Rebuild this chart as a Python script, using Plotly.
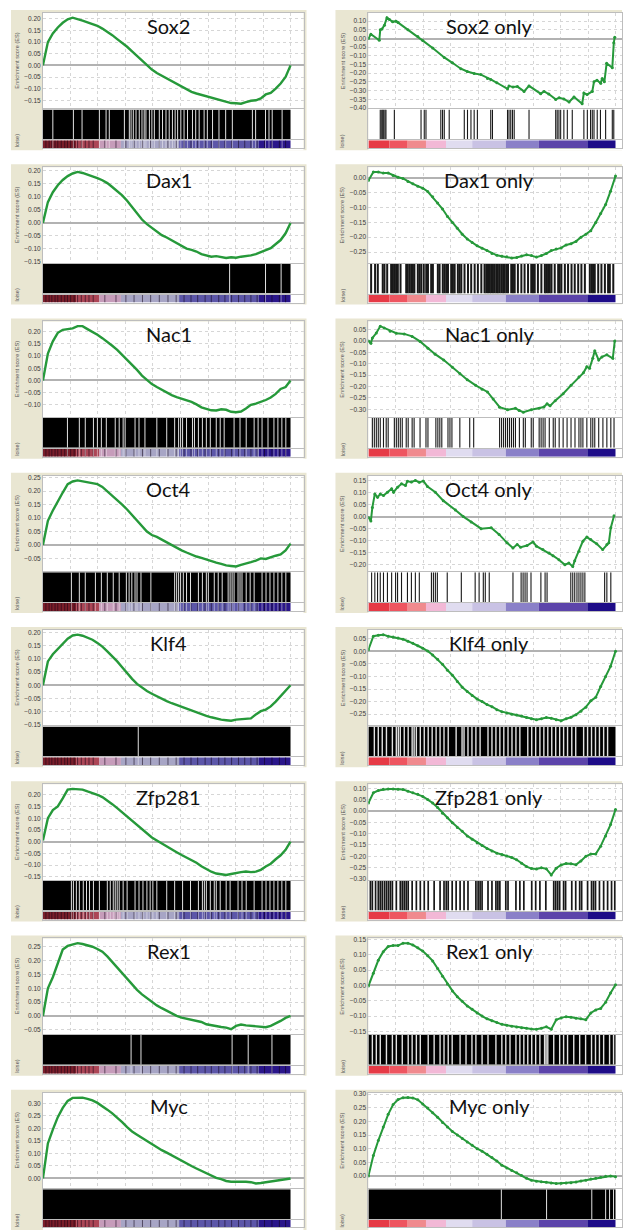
import plotly.graph_objects as go

W, H = 623, 1230

# ---------------- data ----------------
RANK_PCT = list(range(0, 101, 2))

LEFT_TITLES = ["Sox2", "Dax1", "Nac1", "Oct4", "Klf4", "Zfp281", "Rex1", "Myc"]
RIGHT_TITLES = ["Sox2 only", "Dax1 only", "Nac1 only", "Oct4 only",
                "Klf4 only", "Zfp281 only", "Rex1 only", "Myc only"]

es_sox2 = [0.0, 0.10, 0.137, 0.163, 0.183, 0.198, 0.205, 0.200, 0.192, 0.185,
           0.177, 0.170, 0.158, 0.145, 0.130, 0.113, 0.097, 0.080, 0.060, 0.040,
           0.018, 0.000, -0.018, -0.033, -0.045, -0.057, -0.068, -0.080, -0.093, -0.105,
           -0.114, -0.121, -0.127, -0.132, -0.138, -0.145, -0.152, -0.158, -0.162, -0.163,
           -0.165, -0.158, -0.152, -0.150, -0.142, -0.125, -0.118, -0.100, -0.078, -0.050,
           0.0]
es_dax1 = [0.0, 0.08, 0.118, 0.145, 0.165, 0.18, 0.19, 0.196, 0.192, 0.186,
           0.18, 0.172, 0.164, 0.153, 0.138, 0.123, 0.106, 0.085, 0.06, 0.036,
           0.013, -0.005, -0.02, -0.035, -0.047, -0.056, -0.066, -0.077, -0.088, -0.099,
           -0.104, -0.11, -0.12, -0.126, -0.13, -0.128, -0.132, -0.135, -0.132, -0.134,
           -0.13, -0.128, -0.125, -0.12, -0.114, -0.105, -0.097, -0.083, -0.066, -0.04,
           0.0]
es_nac1 = [0.0, 0.11, 0.16, 0.195, 0.207, 0.21, 0.213, 0.222, 0.222, 0.21,
           0.2, 0.187, 0.173, 0.159, 0.142, 0.125, 0.105, 0.085, 0.063, 0.043,
           0.02, 0.002, -0.015, -0.027, -0.038, -0.05, -0.06, -0.068, -0.074, -0.08,
           -0.088, -0.098, -0.11, -0.116, -0.122, -0.123, -0.118, -0.12, -0.128, -0.13,
           -0.127, -0.115, -0.1, -0.095, -0.088, -0.08, -0.07, -0.055, -0.035, -0.027,
           0.0]
es_oct4 = [0.0, 0.09, 0.128, 0.163, 0.195, 0.226, 0.236, 0.24, 0.237, 0.232,
           0.231, 0.226, 0.216, 0.2, 0.185, 0.168, 0.15, 0.132, 0.112, 0.09,
           0.068, 0.05, 0.037, 0.03, 0.02, 0.01, 0.0, -0.012, -0.02, -0.028,
           -0.036, -0.043, -0.048, -0.055, -0.06, -0.066, -0.07, -0.076, -0.078, -0.08,
           -0.074, -0.07, -0.064, -0.058, -0.05, -0.052, -0.045, -0.04, -0.035, -0.02,
           0.005]
es_klf4 = [0.0, 0.09, 0.117, 0.137, 0.158, 0.176, 0.188, 0.191, 0.187, 0.18,
           0.172, 0.16, 0.146, 0.128, 0.11, 0.09, 0.068, 0.045, 0.024, 0.005,
           -0.01, -0.022, -0.032, -0.042, -0.05, -0.06, -0.068, -0.075, -0.083, -0.09,
           -0.097, -0.103, -0.11, -0.116, -0.121, -0.127, -0.13, -0.132, -0.134, -0.13,
           -0.128, -0.126, -0.125, -0.11, -0.098, -0.092, -0.08, -0.062, -0.04, -0.022,
           0.0]
es_zfp281 = [0.005, 0.1, 0.135, 0.15, 0.185, 0.222, 0.225, 0.224, 0.222, 0.214,
             0.208, 0.2, 0.19, 0.176, 0.16, 0.143, 0.125, 0.107, 0.088, 0.07,
             0.053, 0.036, 0.018, 0.005, -0.008, -0.02, -0.035, -0.045, -0.057, -0.067,
             -0.078, -0.09, -0.105, -0.118, -0.128, -0.136, -0.14, -0.142, -0.138, -0.133,
             -0.13, -0.127, -0.13, -0.128, -0.12, -0.106, -0.094, -0.075, -0.058, -0.035,
             0.0]
es_rex1 = [0.0, 0.1, 0.14, 0.19, 0.24, 0.253, 0.258, 0.263, 0.26, 0.256,
           0.25, 0.242, 0.232, 0.215, 0.195, 0.175, 0.155, 0.133, 0.112, 0.094,
           0.078, 0.064, 0.05, 0.038, 0.028, 0.018, 0.008, 0.0, -0.006, -0.01,
           -0.012, -0.016, -0.022, -0.03, -0.034, -0.037, -0.04, -0.042, -0.048, -0.036,
           -0.031, -0.034, -0.036, -0.038, -0.04, -0.041, -0.036, -0.028, -0.018, -0.007,
           0.0]
es_myc = [0.0, 0.14, 0.195, 0.245, 0.282, 0.31, 0.322, 0.324, 0.323, 0.318,
          0.312, 0.302, 0.29, 0.275, 0.26, 0.243, 0.225, 0.205, 0.188, 0.175,
          0.162, 0.15, 0.137, 0.125, 0.113, 0.103, 0.092, 0.08, 0.07, 0.06,
          0.05, 0.04, 0.03, 0.02, 0.01, 0.002, -0.003, -0.01, -0.013, -0.012,
          -0.013, -0.013, -0.015, -0.02, -0.018, -0.015, -0.013, -0.011, -0.008, -0.005,
          0.0]

x_sox2_only = [0, 1, 4.4, 4.8, 5.5, 6.5, 7.5, 8.5, 9.8, 11.2,
               12, 16, 20, 22, 26, 30.7, 34, 37.4, 40, 42.8,
               45.5, 48.2, 49.5, 52, 56.3, 56.9, 58.5, 60.3, 63, 65,
               69.7, 71.1, 73, 75.8, 77.2, 79.1, 81.2, 83.2, 86.5, 87.2,
               88.5, 90.6, 91.3, 92.5, 94, 94.6, 95.5, 96.4, 98.7, 99.3,
               99.7]
es_sox2_only = [0.0, 0.025, -0.01, 0.05, 0.055, 0.077, 0.12, 0.11, 0.096, 0.10,
                0.092, 0.05, 0.012, -0.012, -0.055, -0.109, -0.14, -0.174, -0.19, -0.202,
                -0.208, -0.23, -0.236, -0.255, -0.29, -0.273, -0.28, -0.277, -0.305, -0.273,
                -0.318, -0.305, -0.32, -0.351, -0.342, -0.348, -0.366, -0.337, -0.376, -0.314,
                -0.323, -0.305, -0.249, -0.24, -0.258, -0.23, -0.249, -0.143, -0.169, -0.025,
                0.007]
es_dax1_only = [-0.009, 0.02, 0.02, 0.016, 0.016, 0.008, 0.002, -0.002, -0.012, -0.02,
                -0.028, -0.035, -0.046, -0.064, -0.085, -0.105, -0.13, -0.15, -0.17, -0.19,
                -0.206, -0.218, -0.229, -0.237, -0.245, -0.255, -0.261, -0.264, -0.266, -0.27,
                -0.268, -0.263, -0.259, -0.262, -0.267, -0.262, -0.255, -0.245, -0.24, -0.236,
                -0.226, -0.222, -0.214, -0.2, -0.19, -0.178, -0.15, -0.12, -0.09, -0.045,
                0.006]
x_nac1_only = [0, 1, 1.6, 3.2, 4.8, 6.4, 8.8, 11.3, 14.5, 17.7,
               20.9, 24.1, 27, 30.5, 34, 37, 40, 43.4, 46, 48.2,
               50.5, 53.1, 56.3, 59.5, 61, 62.7, 65.9, 69.1, 71, 72.3,
               73.5, 75.6, 78.8, 82, 85.2, 87, 88.4, 89.5, 90.8, 91.6,
               93.2, 94.5, 96.5, 98.9, 99.7]
es_nac1_only = [0.0, -0.01, 0.013, 0.035, 0.065, 0.057, 0.043, 0.034, 0.031, 0.02,
                -0.002, -0.032, -0.058, -0.084, -0.115, -0.143, -0.17, -0.195, -0.212, -0.224,
                -0.255, -0.291, -0.302, -0.296, -0.305, -0.313, -0.302, -0.296, -0.29, -0.276,
                -0.285, -0.262, -0.232, -0.195, -0.158, -0.14, -0.113, -0.12, -0.076, -0.043,
                -0.084, -0.07, -0.061, -0.076, 0.0]
x_oct4_only = [0, 1, 1.6, 2.6, 3.7, 4.8, 6.1, 7.7, 9.4, 10.2,
               11.8, 13.4, 15, 15.8, 17.4, 19, 20.6, 22.2, 23.9, 27.1,
               30.3, 35.2, 38.4, 41.6, 45.6, 49.7, 52.9, 56.1, 58.5, 60.2,
               61.6, 64.2, 66.6, 68, 70.6, 73.1, 74.7, 77.1, 79.5, 81.1,
               82.7, 83.5, 85.2, 86.8, 88.4, 90, 92.4, 94.8, 96.5, 97.3,
               98.1, 99.4]
es_oct4_only = [-0.004, -0.018, 0.038, 0.094, 0.08, 0.094, 0.087, 0.101, 0.115, 0.101,
                0.122, 0.136, 0.129, 0.147, 0.143, 0.15, 0.142, 0.148, 0.125, 0.101,
                0.066, 0.027, 0.0, -0.022, -0.05, -0.046, -0.074, -0.109, -0.13, -0.116,
                -0.127, -0.12, -0.105, -0.123, -0.137, -0.151, -0.162, -0.179, -0.2, -0.193,
                -0.207, -0.183, -0.144, -0.102, -0.085, -0.095, -0.113, -0.137, -0.116, -0.109,
                -0.046, 0.003]
es_klf4_only = [0.006, 0.06, 0.064, 0.066, 0.06, 0.057, 0.053, 0.048, 0.04, 0.032,
                0.022, 0.012, 0.001, -0.015, -0.032, -0.052, -0.075, -0.095, -0.12, -0.143,
                -0.16, -0.176, -0.19, -0.2, -0.212, -0.22, -0.232, -0.24, -0.245, -0.25,
                -0.253, -0.257, -0.263, -0.268, -0.272, -0.268, -0.263, -0.266, -0.272, -0.276,
                -0.268, -0.262, -0.252, -0.238, -0.222, -0.197, -0.183, -0.14, -0.1, -0.06,
                0.0]
es_zfp281_only = [0.035, 0.08, 0.09, 0.095, 0.097, 0.097, 0.096, 0.094, 0.087, 0.08,
                  0.073, 0.064, 0.05, 0.035, 0.015, -0.01, -0.03, -0.052, -0.073, -0.09,
                  -0.11, -0.125, -0.14, -0.152, -0.165, -0.176, -0.186, -0.192, -0.198, -0.205,
                  -0.215, -0.23, -0.245, -0.254, -0.256, -0.25, -0.255, -0.282, -0.252, -0.238,
                  -0.232, -0.233, -0.237, -0.22, -0.2, -0.19, -0.19, -0.155, -0.11, -0.06,
                  0.006]
es_rex1_only = [-0.002, 0.04, 0.082, 0.11, 0.127, 0.13, 0.13, 0.138, 0.138, 0.132,
                0.123, 0.112, 0.097, 0.08, 0.055, 0.03, 0.005, -0.018, -0.037, -0.052,
                -0.067, -0.078, -0.09, -0.1, -0.109, -0.115, -0.121, -0.127, -0.13, -0.133,
                -0.136, -0.138, -0.14, -0.142, -0.143, -0.14, -0.135, -0.143, -0.112, -0.106,
                -0.102, -0.104, -0.107, -0.109, -0.112, -0.09, -0.08, -0.075, -0.055, -0.025,
                0.002]
es_myc_only = [0.0, 0.075, 0.13, 0.18, 0.226, 0.262, 0.28, 0.287, 0.288, 0.286,
               0.279, 0.264, 0.249, 0.232, 0.215, 0.196, 0.18, 0.163, 0.15, 0.138,
               0.125, 0.113, 0.1, 0.091, 0.08, 0.068, 0.055, 0.04, 0.03, 0.02,
               0.012, 0.002, -0.008, -0.015, -0.019, -0.021, -0.023, -0.025, -0.027, -0.026,
               -0.025, -0.024, -0.022, -0.018, -0.015, -0.011, -0.008, -0.004, -0.001, 0.0,
               -0.002]

# barcode positions (% of ranked list)
gaps_sox2 = [4.0, 12.3, 15.8, 22.8, 25.5, 26.8, 32.9, 34.9, 35.6, 36.5, 37.6, 38.9, 40.0,
             40.9, 41.6, 43.0, 44.0, 45.0, 47.0, 48.3, 49.7, 51.0, 52.3, 53.4, 54.4, 55.7,
             57.0, 58.4, 60.4, 61.7, 63.1, 65.1, 66.4, 68.5, 71.1, 73.8, 76.5, 84.6, 85.9,
             89.9, 91.3, 92.6, 96.6]
gaps_dax1 = [75.4, 89.9, 96.2]
gaps_nac1 = [9.9, 14.7, 17.1, 20.4, 22.0, 23.6, 25.6, 29.2, 30.8, 32.4, 33.2, 37.2, 38.8,
             41.2, 46.0, 50.0, 53.2, 54.8, 55.6, 56.4, 58.0, 60.4, 61.2, 62.8, 64.4, 66.0,
             67.6, 70.0, 71.6, 73.2, 77.2, 79.6, 82.1, 85.3, 86.9, 88.5, 90.9, 93.3, 94.9,
             96.5, 98.1]
gaps_oct4 = [11.5, 14.7, 17.1, 21.2, 23.6, 26.0, 28.4, 30.8, 33.7, 34.8, 35.9, 37.2, 38.0,
             39.6, 43.6, 53.2, 54.0, 54.8, 55.6, 56.7, 58.0, 59.6, 62.8, 64.4, 66.0, 66.8,
             69.2, 70.8, 72.4, 74.8, 75.6, 76.4, 77.2, 78.8, 79.6, 80.4, 82.1, 83.7, 85.3,
             88.5, 90.1, 91.7, 93.3, 94.9, 96.5, 98.1]
gaps_klf4 = [38.5]
gaps_zfp281 = [11.5, 12.3, 13.5, 14.7, 16.3, 17.6, 18.8, 20.4, 22.8, 26.0, 27.2, 28.4, 29.2,
               30.0, 30.8, 32.4, 34.0, 37.2, 38.8, 40.4, 42.0, 43.3, 44.4, 46.0, 50.0, 53.2,
               56.4, 59.6, 62.8, 64.4, 65.2, 66.0, 67.6, 69.2, 70.0, 71.6, 74.0, 75.6, 78.8,
               80.4, 82.1, 85.3, 88.5, 90.1, 91.7, 93.3, 94.9, 96.5, 98.1]
gaps_rex1 = [35.6, 39.6, 76.4, 82.9, 92.5]
gaps_myc = []

hits_sox2_only = [4.8, 5.4, 5.8, 6.2, 6.7, 7.1, 10.5, 21.3, 22.6, 23.3, 29.3, 30.0, 30.7,
                  32.7, 38.8, 40.1, 41.5, 42.8, 44.1, 49.5, 50.2, 56.3, 56.9, 57.6, 58.3,
                  59.0, 65.0, 75.8, 76.4, 77.1, 77.8, 79.1, 80.5, 82.5, 87.2, 88.6, 89.9,
                  90.6, 91.3, 92.6, 93.9, 96.0, 98.7, 99.3]
hits_dax1_only = [1.1, 2.7, 3.8, 5.8, 6.5, 7.6, 9.2, 9.9, 10.5, 11.2, 11.9, 13.0, 15.3, 15.9,
                  16.6, 17.3, 18.0, 18.6, 20.0, 20.7, 21.4, 22.4, 23.4, 24.1, 25.4, 26.1, 28.1,
                  28.8, 30.1, 30.8, 31.5, 32.2, 33.5, 34.2, 34.9, 36.2, 36.9, 37.6, 38.9, 40.3,
                  41.6, 43.0, 44.3, 45.7, 47.0, 47.7, 48.4, 49.1, 49.7, 50.4, 51.1, 51.8, 52.4,
                  53.1, 53.8, 54.5, 55.1, 55.8, 56.5, 57.8, 58.5, 59.2, 60.5, 61.9, 63.2, 64.6,
                  65.9, 66.6, 67.3, 68.6, 70.0, 71.4, 72.0, 72.7, 73.4, 74.1, 75.4, 76.8, 77.4,
                  78.1, 79.5, 80.8, 82.2, 83.5, 84.9, 86.2, 87.6, 89.6, 90.3, 90.9, 91.6, 93.0,
                  94.3, 95.7, 97.0, 97.7, 99.1]
hits_nac1_only = [1.6, 2.4, 3.2, 4.0, 4.8, 6.1, 7.2, 8.0, 10.5, 11.3, 12.1, 12.9, 13.7, 15.3,
                  16.1, 17.7, 18.5, 20.9, 23.3, 24.1, 27.3, 28.1, 28.9, 29.7, 32.2, 33.0, 33.8,
                  37.0, 41.0, 42.6, 53.1, 53.9, 54.7, 55.5, 56.3, 57.1, 57.9, 58.7, 59.5, 61.1,
                  62.7, 63.5, 65.9, 66.7, 69.1, 69.9, 70.7, 71.5, 73.2, 74.8, 75.6, 77.2, 78.8,
                  80.4, 82.0, 83.6, 85.2, 86.0, 86.8, 88.4, 90.0, 90.8, 91.6, 93.2, 94.9, 96.5,
                  98.1, 99.4]
hits_oct4_only = [1.3, 2.6, 3.7, 4.8, 6.1, 7.7, 9.4, 11.0, 11.8, 13.4, 15.8, 17.4, 19.0, 20.6,
                  25.5, 26.3, 27.1, 27.9, 31.9, 37.6, 43.2, 44.8, 46.5, 47.3, 48.9, 58.5, 61.8,
                  62.6, 63.4, 64.2, 65.8, 69.8, 71.5, 72.3, 81.9, 82.7, 83.5, 84.4, 85.2, 86.0,
                  86.8, 87.6, 95.6, 96.5, 98.1]
gaps_klf4_only = [2.4, 4.0, 5.6, 7.3, 9.7, 11.3, 12.1, 12.9, 14.5, 16.1, 17.7, 18.5, 19.4,
                  21.0, 22.6, 24.2, 25.8, 27.4, 29.0, 30.6, 32.3, 35.5, 37.9, 38.7, 40.3, 41.9,
                  43.5, 45.2, 48.4, 50.0, 51.6, 53.2, 54.8, 56.5, 58.1, 59.7, 61.3, 64.5, 66.1,
                  67.7, 69.4, 71.0, 72.6, 74.2, 75.8, 77.4, 79.0, 80.6, 82.3, 83.9, 87.1, 88.7,
                  90.3, 91.9, 93.5, 95.2, 96.8]
hits_zfp281_only = [0.8, 1.6, 2.9, 4.0, 4.8, 5.6, 6.5, 7.3, 8.1, 8.9, 9.7, 11.3, 12.9, 13.7,
                    14.5, 15.3, 16.1, 17.7, 19.4, 21.0, 22.6, 24.2, 26.6, 29.0, 30.6, 31.5,
                    32.3, 33.9, 35.5, 37.1, 38.7, 40.3, 43.5, 44.4, 45.2, 46.0, 48.4, 50.0,
                    51.6, 52.4, 53.2, 55.6, 56.5, 59.7, 61.3, 62.9, 66.1, 67.7, 69.4, 71.8,
                    75.0, 75.8, 76.6, 77.4, 79.0, 79.8, 82.3, 83.9, 85.5, 86.3, 88.7, 90.3,
                    91.1, 91.9, 93.5, 95.2, 96.8, 98.4, 99.7]
gaps_rex1_only = [1.6, 3.2, 4.8, 7.3, 9.7, 11.3, 13.7, 16.1, 17.7, 19.4, 21.0, 24.2, 26.6,
                  29.0, 30.6, 32.3, 33.9, 37.1, 39.5, 41.9, 43.5, 46.0, 48.4, 51.6, 54.0, 55.6,
                  57.3, 59.7, 61.3, 62.9, 64.5, 66.1, 67.7, 69.4, 71.3, 71.9, 72.6, 75.0, 77.4,
                  79.0, 80.6, 83.1, 85.5, 87.9, 90.3, 91.9, 93.5, 95.2, 97.6, 99.2]
gaps_myc_only = [53.8, 72.1, 90.4, 96.0, 97.6, 99.2]

# ranked-list colour bar blocks (% of ranked list)
RANK_EDGES_LEFT = [0, 13.4, 22.8, 31.5, 55, 87.2, 100]
RANK_COLORS_LEFT = ["#7a1e2a", "#ac4656", "#c69cba", "#a7a5c5", "#5c56a8", "#2a168a"]
RANK_STRIPES_LEFT = [1.2, 2.5, 3.6, 4.9, 6.0, 7.4, 8.8, 9.9, 11.2, 12.6, 14.0, 15.5, 17.1,
                     18.6, 20.3, 25.0, 29.5, 33.5, 36.8, 40.2, 43.5, 47.0, 50.5, 53.8, 57.0,
                     59.8, 62.5, 65.5, 68.0, 71.0, 73.5, 76.2, 79.0, 81.5, 84.0, 86.5, 89.5,
                     92.5, 95.5, 98.0]
RANK_EDGES_RIGHT = [0, 8.5, 15.9, 23.3, 31.4, 42, 55.6, 69, 88.6, 100]
RANK_COLORS_RIGHT = ["#e63a46", "#ee5560", "#f08a8e", "#f2b8d6", "#e0dcf0", "#c9c2e4",
                     "#8a80c8", "#5c44aa", "#1e0c88"]

LEFT_ES = [es_sox2, es_dax1, es_nac1, es_oct4, es_klf4, es_zfp281, es_rex1, es_myc]
LEFT_MARKS = [gaps_sox2, gaps_dax1, gaps_nac1, gaps_oct4, gaps_klf4, gaps_zfp281,
              gaps_rex1, gaps_myc]
RIGHT_X = [x_sox2_only, RANK_PCT, x_nac1_only, x_oct4_only, RANK_PCT, RANK_PCT,
           RANK_PCT, RANK_PCT]
RIGHT_ES = [es_sox2_only, es_dax1_only, es_nac1_only, es_oct4_only, es_klf4_only,
            es_zfp281_only, es_rex1_only, es_myc_only]
RIGHT_MARKS = [hits_sox2_only, hits_dax1_only, hits_nac1_only, hits_oct4_only,
               gaps_klf4_only, hits_zfp281_only, gaps_rex1_only, gaps_myc_only]
RIGHT_KIND = ["hits", "hits", "hits", "hits", "gaps", "hits", "gaps", "gaps"]

# ---------------- style / geometry ----------------
GREEN = "#26993a"
BEIGE = "#e9e6d2"
GRID = "#d6d6d6"
BORDER = "#bdbdbd"
ROW_STEP = 155
FRAME_TOP, PLOT_TOP, ES_BOT = 7, 10, 106
BC_TOP, BC_BOT, CB_TOP, CB_BOT, PANEL_BOT = 107, 137, 138, 146, 148
COLS = [
    dict(frame_l=11, plot_l=43, plot_r=304, data_r=291, frame_r=307, title_x=169, label_x=17),
    dict(frame_l=336, plot_l=369, plot_r=623, data_r=616.5, frame_r=623, title_x=490, label_x=343),
]
RIGHT_MARK_WIDTH = [1.1, 2.0, 1.1, 1.1, 1.4, 1.7, 1.4, 1.0]
TICKFONT = dict(family="Liberation Sans, Arial", size=6.5, color="#3a3a3a")

fig = go.Figure()
layout = dict(width=W, height=H, autosize=False, margin=dict(l=0, r=0, t=0, b=0),
              paper_bgcolor="white", plot_bgcolor="rgba(0,0,0,0)", showlegend=False,
              barmode="overlay", hovermode=False)
shapes, annotations = [], []


def names(i):
    s = "" if i == 1 else str(i)
    return "xaxis" + s, "yaxis" + s, "x" + s, "y" + s


def ydom(top_px, bot_px):
    return [max(0.0, 1 - bot_px / H), min(1.0, 1 - top_px / H)]


def vlines(pos):
    xs, ys = [], []
    for p in pos:
        xs += [p, p, None]
        ys += [0, 1, None]
    return xs, ys


def plain_x(dom, rng, anchor):
    return dict(domain=dom, range=rng, anchor=anchor, showgrid=False, zeroline=False,
                showticklabels=False, ticks="", showline=True, linecolor=BORDER,
                linewidth=1, mirror=True, fixedrange=True)


def plain_y(dom, anchor):
    return dict(domain=dom, range=[0, 1], anchor=anchor, showgrid=False, zeroline=False,
                showticklabels=False, ticks="", showline=True, linecolor=BORDER,
                linewidth=1, mirror=True, fixedrange=True)


panel = 0
for r in range(8):
    off = r * ROW_STEP
    for c in range(2):
        g = COLS[c]
        if c == 0:
            xs, ys, marks, kind, title = RANK_PCT, LEFT_ES[r], LEFT_MARKS[r], "gaps", LEFT_TITLES[r]
            mwidth = 1.0
        else:
            xs, ys, marks, kind, title = (RIGHT_X[r], RIGHT_ES[r], RIGHT_MARKS[r],
                                          RIGHT_KIND[r], RIGHT_TITLES[r])
            mwidth = RIGHT_MARK_WIDTH[r]

        xr = [0, 100 * (g["plot_r"] - g["plot_l"]) / (g["data_r"] - g["plot_l"])]
        xdom = [g["plot_l"] / W, g["plot_r"] / W]
        lo, hi = min(ys), max(ys)
        pad = 0.055 * (hi - lo)

        # frame + white plot area
        shapes.append(dict(type="rect", xref="paper", yref="paper", layer="below",
                           x0=g["frame_l"] / W, x1=g["frame_r"] / W,
                           y0=1 - (off + PANEL_BOT) / H, y1=1 - (off + FRAME_TOP) / H,
                           fillcolor=BEIGE, line=dict(width=0)))
        shapes.append(dict(type="rect", xref="paper", yref="paper", layer="below",
                           x0=g["plot_l"] / W, x1=g["plot_r"] / W,
                           y0=1 - (off + PANEL_BOT) / H, y1=1 - (off + PLOT_TOP) / H,
                           fillcolor="white", line=dict(width=0)))

        i_es, i_bc, i_cb = 3 * panel + 1, 3 * panel + 2, 3 * panel + 3
        xa, ya, xr_, yr_ = names(i_es)
        layout[xa] = dict(domain=xdom, range=xr, anchor=yr_, showgrid=True, gridcolor=GRID,
                          griddash="dot", gridwidth=1, dtick=100 / 9, tick0=0,
                          showticklabels=False, ticks="", zeroline=False, showline=True,
                          linecolor=BORDER, mirror=True, fixedrange=True)
        layout[ya] = dict(domain=ydom(off + PLOT_TOP, off + ES_BOT), range=[lo - pad, hi + pad],
                          anchor=xr_, dtick=0.05, tick0=0, tickformat=".2f", tickfont=TICKFONT,
                          ticks="", showgrid=True, gridcolor=GRID, griddash="dot",
                          zeroline=True, zerolinecolor="#b2b2b2", zerolinewidth=1.5,
                          showline=True, linecolor=BORDER, mirror=True, fixedrange=True)
        fig.add_trace(go.Scatter(x=xs, y=ys, mode="lines+markers" if c == 1 else "lines",
                                 line=dict(color=GREEN, width=2.4 if c == 0 else 2.0),
                                 marker=dict(size=3, color=GREEN),
                                 xaxis=xr_, yaxis=yr_, hoverinfo="skip"))

        # barcode
        xa, ya, xb_, yb_ = names(i_bc)
        layout[xa] = plain_x(xdom, xr, yb_)
        layout[ya] = plain_y(ydom(off + BC_TOP, off + BC_BOT), xb_)
        lc = "#e2e2e2" if kind == "gaps" else "#181818"
        if kind == "gaps":
            shapes.append(dict(type="rect", xref=xb_, yref=yb_, layer="below",
                               x0=0, x1=100, y0=0, y1=1, fillcolor="black", line=dict(width=0)))
        if marks:
            lx, ly = vlines(marks)
            fig.add_trace(go.Scatter(x=lx, y=ly, mode="lines",
                                     line=dict(color=lc, width=mwidth),
                                     xaxis=xb_, yaxis=yb_, hoverinfo="skip"))

        # ranked-list colour bar
        xa, ya, xc_, yc_ = names(i_cb)
        layout[xa] = plain_x(xdom, xr, yc_)
        layout[ya] = plain_y(ydom(off + CB_TOP, off + CB_BOT), xc_)
        edges = RANK_EDGES_LEFT if c == 0 else RANK_EDGES_RIGHT
        cols = RANK_COLORS_LEFT if c == 0 else RANK_COLORS_RIGHT
        fig.add_trace(go.Bar(orientation="h", y=[0.5] * len(cols),
                             x=[edges[k + 1] - edges[k] for k in range(len(cols))],
                             base=edges[:-1], width=[1] * len(cols),
                             marker=dict(color=cols, line=dict(width=0)),
                             xaxis=xc_, yaxis=yc_, hoverinfo="skip"))
        if c == 0:
            sx, sy = vlines(RANK_STRIPES_LEFT)
            fig.add_trace(go.Scatter(x=sx, y=sy, mode="lines",
                                     line=dict(color="rgba(15,0,20,0.55)", width=1),
                                     xaxis=xc_, yaxis=yc_, hoverinfo="skip"))
            if marks:
                gx, gy = vlines(marks)
                fig.add_trace(go.Scatter(x=gx, y=gy, mode="lines",
                                         line=dict(color="rgba(255,255,255,0.45)", width=1),
                                         xaxis=xc_, yaxis=yc_, hoverinfo="skip"))

        # texts
        annotations.append(dict(text=title, xref="paper", yref="paper",
                                x=g["title_x"] / W, y=1 - (off + 23) / H,
                                xanchor="center", yanchor="middle", showarrow=False,
                                font=dict(family="Lato, Open Sans", size=20, color="#111")))
        annotations.append(dict(text="Enrichment score (ES)", xref="paper", yref="paper",
                                x=g["label_x"] / W, y=1 - (off + 58) / H, textangle=-90,
                                xanchor="center", yanchor="middle", showarrow=False,
                                font=dict(family="Liberation Sans, Arial", size=5.6,
                                          color="#555")))
        annotations.append(dict(text="loise)", xref="paper", yref="paper",
                                x=g["label_x"] / W, y=1 - (off + 138) / H, textangle=-90,
                                xanchor="center", yanchor="middle", showarrow=False,
                                font=dict(family="Liberation Sans, Arial", size=5.6,
                                          color="#555")))
        panel += 1

layout["shapes"] = shapes
layout["annotations"] = annotations
fig.update_layout(**layout)
fig.write_html("out.html")
